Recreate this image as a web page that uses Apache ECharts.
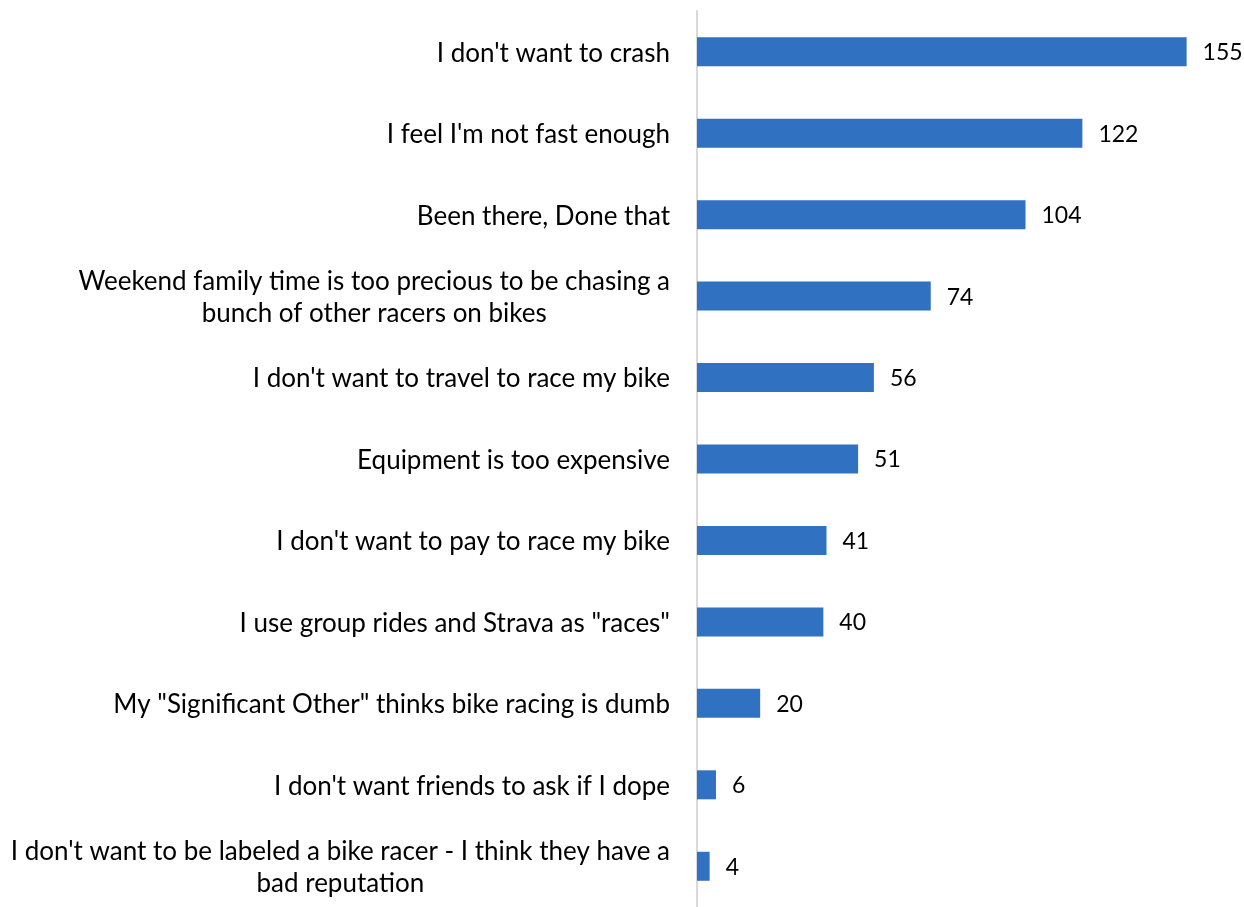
<!DOCTYPE html>
<html>
<head>
<meta charset="utf-8">
<title>Reasons for not racing</title>
<script src="https://cdn.jsdelivr.net/npm/echarts@6/dist/echarts.min.js"></script>
<style>
  html, body { margin: 0; padding: 0; background: #ffffff; }
  #chart { width: 1244px; height: 907px; }
</style>
</head>
<body>
<div id="chart"></div>
<script>
// Survey answers, listed top to bottom
const categories = [
  "I don't want to crash",
  "I feel I'm not fast enough",
  "Been there, Done that",
  "Weekend family time is too precious to be chasing a\nbunch of other racers on bikes",
  "I don't want to travel to race my bike",
  "Equipment is too expensive",
  "I don't want to pay to race my bike",
  "I use group rides and Strava as \"races\"",
  "My \"Significant Other\" thinks bike racing is dumb",
  "I don't want friends to ask if I dope",
  "I don't want to be labeled a bike racer - I think they have a\nbad reputation"
];
const counts = [155, 122, 104, 74, 56, 51, 41, 40, 20, 6, 4];

const FONT = 'Lato';
const chart = echarts.init(document.getElementById('chart'), null, { renderer: 'canvas' });
chart.setOption({
  animation: false,
  grid: { left: 697, top: 11, width: 537, height: 902 },
  xAxis: {
    type: 'value', min: 0, max: 170,
    show: false
  },
  yAxis: {
    type: 'category',
    inverse: true,
    data: categories,
    axisLine: { show: true, lineStyle: { color: '#d9d9d9', width: 2 } },
    axisTick: { show: false },
    axisLabel: {
      margin: 27,
      color: '#000000',
      fontFamily: FONT,
      fontSize: 26,
      lineHeight: 32,
      align: 'right',
      // each line of a wrapped answer is centred within its block
      formatter: (v) => v.split('\n').map((s) => '{c|' + s + '}').join('\n'),
      rich: {
        c: {
          align: 'center',
          color: '#000000',
          fontFamily: FONT,
          fontSize: 26,
          lineHeight: 32,
          padding: [3, 0, 0, 0]
        }
      }
    }
  },
  series: [{
    type: 'bar',
    data: counts,
    barWidth: 29,
    itemStyle: { color: '#3071c2' },
    label: {
      show: true,
      position: 'right',
      distance: 16,
      offset: [0, 1],
      color: '#000000',
      fontFamily: FONT,
      fontSize: 23
    }
  }]
});
</script>
</body>
</html>
